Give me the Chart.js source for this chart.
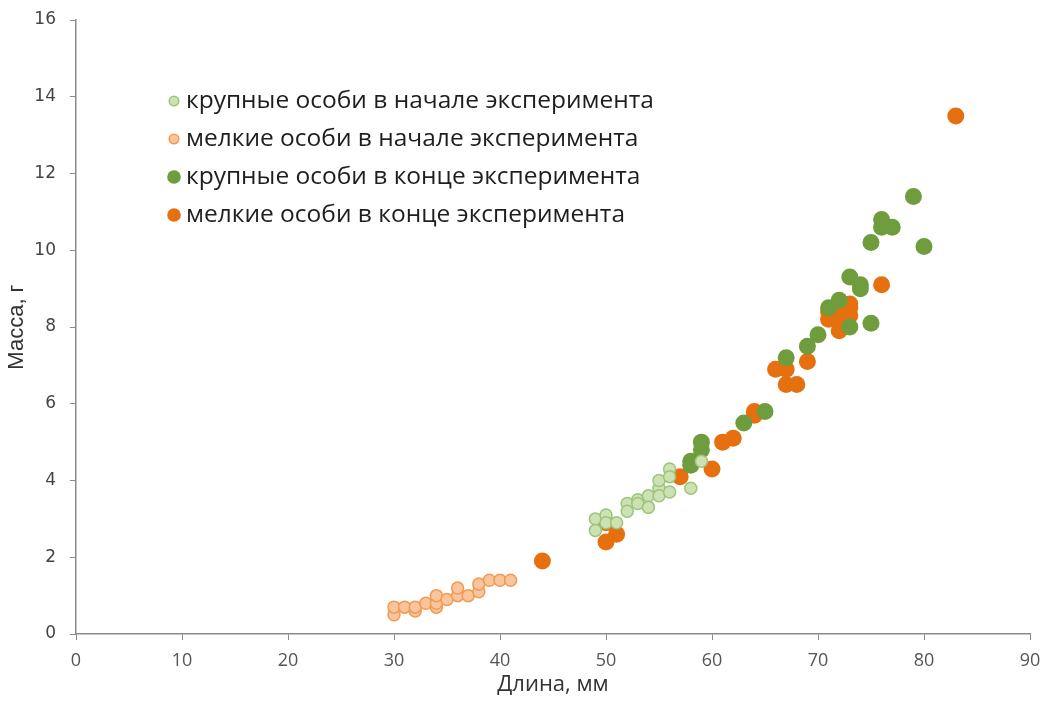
<!DOCTYPE html>
<html>
<head>
<meta charset="utf-8">
<script src="https://cdn.jsdelivr.net/npm/chart.js@4.4.1/dist/chart.umd.min.js"></script>
<style>
  html, body { margin: 0; padding: 0; background: #fff; }
  #wrap { width: 1045px; height: 702px; }
</style>
</head>
<body>
<div id="wrap"><canvas id="chart" width="1045" height="702"></canvas></div>
<script>
// длина, мм / масса, г
const largeStart = [
  [49, 3.0], [49, 2.7], [50, 3.1], [50, 2.9], [51, 2.9], [52, 3.4], [52, 3.2],
  [53, 3.5], [53, 3.4], [54, 3.6], [54, 3.3], [55, 3.8], [55, 3.6], [55, 4.0],
  [56, 4.3], [56, 4.1], [56, 3.7], [58, 3.8], [59, 4.5]
];
const smallStart = [
  [30, 0.5], [30, 0.7], [31, 0.7], [32, 0.6], [32, 0.7], [33, 0.8], [34, 0.7],
  [34, 0.8], [34, 1.0], [35, 0.9], [36, 1.0], [36, 1.2], [37, 1.0], [38, 1.1],
  [38, 1.3], [39, 1.4], [40, 1.4], [41, 1.4]
];
const largeEnd = [
  [58, 4.5], [58, 4.4], [59, 5.0], [59, 4.8], [63, 5.5], [65, 5.8], [67, 7.2],
  [69, 7.5], [70, 7.8], [71, 8.5], [72, 8.7], [73, 8.0], [73, 9.3], [74, 9.0],
  [74, 9.1], [75, 8.1], [75, 10.2], [76, 10.8], [76, 10.6], [77, 10.6],
  [79, 11.4], [80, 10.1]
];
const smallEnd = [
  [44, 1.9], [50, 2.9], [50, 2.4], [51, 2.6], [57, 4.1], [60, 4.3], [61, 5.0],
  [62, 5.1], [64, 5.8], [64, 5.7], [66, 6.9], [67, 6.9], [67, 6.5], [68, 6.5],
  [69, 7.1], [71, 8.2], [71, 8.4], [72, 7.9], [72, 8.4], [72, 8.2], [73, 8.6],
  [73, 8.3], [73, 8.5], [76, 9.1], [83, 13.5]
];
const seriesNames = [
  "крупные особи в начале эксперимента",
  "мелкие особи в начале эксперимента",
  "крупные особи в конце эксперимента",
  "мелкие особи в конце эксперимента"
];
const xTitle = "Длина, мм";
const yTitle = "Масса, г";

const toPts = (arr) => arr.map(([x, y]) => ({ x, y }));

const styles = [
  { bg: "#cde2b2", border: "#9cc47c", r: 6, bw: 1.5 },
  { bg: "#fac59c", border: "#f29a52", r: 6, bw: 1.5 },
  { bg: "#6f9c3d", border: "#6f9c3d", r: 8.5, bw: 0 },
  { bg: "#e6700f", border: "#e6700f", r: 8.5, bw: 0 }
];
const allData = [largeStart, smallStart, largeEnd, smallEnd];

// legend drawn inside the plot, upper left
const innerLegend = {
  id: "innerLegend",
  afterDraw(chart) {
    const ctx = chart.ctx;
    const rows = [101, 139, 177, 215];
    ctx.save();
    ctx.font = "24.5px 'Open Sans'";
    ctx.textBaseline = "middle";
    chart.data.datasets.forEach((ds, i) => {
      const st = styles[i];
      const y = rows[i];
      ctx.beginPath();
      ctx.arc(174, y, st.r * 0.8, 0, Math.PI * 2);
      ctx.fillStyle = st.bg;
      ctx.fill();
      if (st.bw) { ctx.lineWidth = st.bw; ctx.strokeStyle = st.border; ctx.stroke(); }
      ctx.fillStyle = "#1e1e1e";
      ctx.fillText(ds.label, 186, y);
    });
    ctx.restore();
  }
};

new Chart(document.getElementById("chart"), {
  type: "scatter",
  data: {
    datasets: allData.map((d, i) => ({
      label: seriesNames[i],
      data: toPts(d),
      backgroundColor: styles[i].bg,
      borderColor: styles[i].border,
      borderWidth: styles[i].bw,
      pointRadius: styles[i].r,
      pointHoverRadius: styles[i].r
    }))
  },
  options: {
    responsive: false,
    animation: false,
    layout: { padding: { top: 20, right: 15, left: 0, bottom: 0 } },
    plugins: { legend: { display: false }, tooltip: { enabled: false } },
    scales: {
      x: {
        type: "linear", min: 0, max: 90,
        ticks: { stepSize: 10, color: "#555", font: { family: "Open Sans", size: 18 }, padding: 10 },
        grid: { drawOnChartArea: false, drawTicks: true, tickLength: 6, color: "#8a8a8a" },
        border: { color: "#8a8a8a", width: 1.5 },
        title: { display: true, text: xTitle, color: "#333", font: { family: "Open Sans", size: 22 }, padding: { top: 2 } },
        afterFit(scale) { scale.height = 68; scale.paddingRight = 8; scale.paddingLeft = 8; }
      },
      y: {
        type: "linear", min: 0, max: 16,
        ticks: { stepSize: 2, color: "#444", font: { family: "DejaVu Sans", size: 17 }, padding: 14 },
        grid: { drawOnChartArea: false, drawTicks: true, tickLength: 6, color: "#8a8a8a" },
        border: { color: "#8a8a8a", width: 1.5 },
        title: { display: true, text: yTitle, color: "#333", font: { family: "Liberation Sans", size: 22 }, padding: { bottom: 2 } },
        afterFit(scale) { scale.width = 76; scale.paddingTop = 10; scale.paddingBottom = 10; }
      }
    }
  },
  plugins: [innerLegend]
});
</script>
</body>
</html>
